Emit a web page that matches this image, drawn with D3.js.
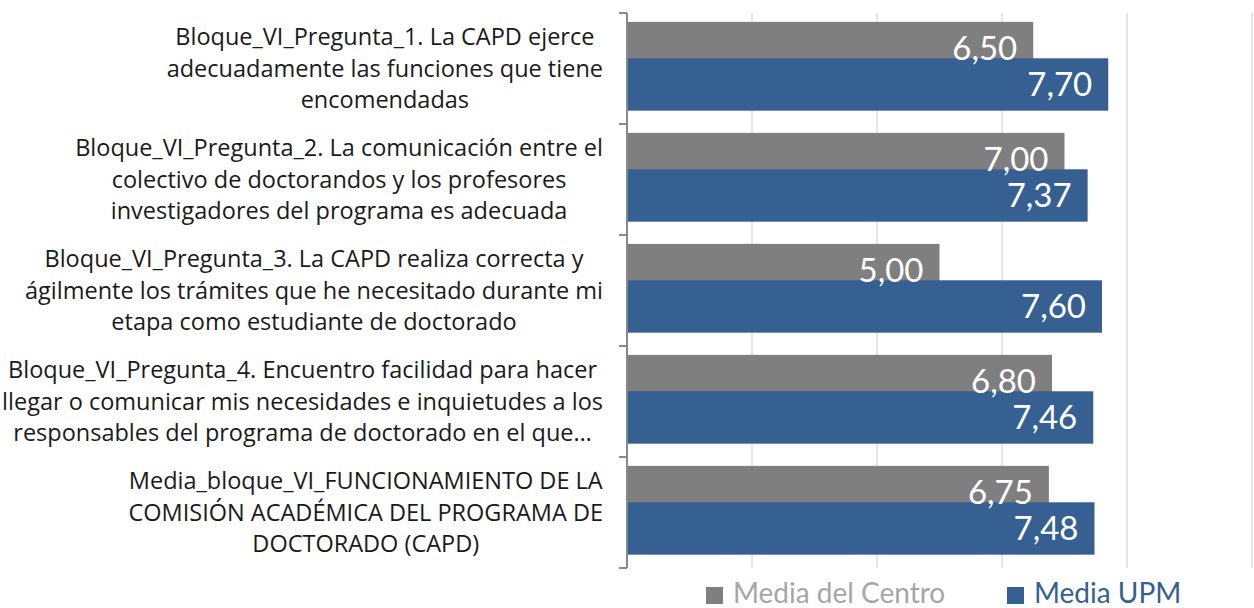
<!DOCTYPE html>
<html>
<head>
<meta charset="utf-8">
<script src="https://d3js.org/d3.v7.min.js"></script>
<style>
  body { margin: 0; background: #fff; }
  #chart { width: 1254px; height: 608px; }
  text { font-family: Lato, "Open Sans", sans-serif; }
</style>
</head>
<body>
<div id="chart"></div>
<script>
// categorías (cada una ya partida en líneas, como en el original)
const categories = [
    ["Bloque_VI_Pregunta_1. La CAPD ejerce", "adecuadamente las funciones que tiene", "encomendadas"],
    ["Bloque_VI_Pregunta_2. La comunicación entre el", "colectivo de doctorandos y los profesores", "investigadores del programa es adecuada"],
    ["Bloque_VI_Pregunta_3. La CAPD realiza correcta y", "ágilmente los trámites que he necesitado durante mi", "etapa como estudiante de doctorado"],
    ["Bloque_VI_Pregunta_4. Encuentro facilidad para hacer", "llegar o comunicar mis necesidades e inquietudes a los", "responsables del programa de doctorado en el que…"],
    ["Media_bloque_VI_FUNCIONAMIENTO DE LA", "COMISIÓN ACADÉMICA DEL PROGRAMA DE", "DOCTORADO (CAPD)"]
];
const seriesNames = ["Media del Centro", "Media UPM"];
const mediaCentro = [6.50, 7.00, 5.00, 6.80, 6.75];
const mediaUPM = [7.70, 7.37, 7.60, 7.46, 7.48];
const xTicks = [0, 2, 4, 6, 8, 10];

const colors = ["#7f7f7f", "#366092"];
const legendText = ["#a6a6a6", "#366092"];

const width = 1254, height = 608;
const plot = {left: 627, right: 1252, top: 13, bottom: 568};

const svg = d3.select("#chart").append("svg")
    .attr("width", width)
    .attr("height", height);

const x = d3.scaleLinear().domain([0, 10]).range([plot.left, plot.right]);
const y = d3.scaleBand()
    .domain(d3.range(categories.length))
    .range([plot.top, plot.bottom])
    .paddingInner(0.2)
    .paddingOuter(0.1)
    .align(0.4);

const bw = y.bandwidth();
const barH = bw * 0.59;
const offsets = [0, bw - barH];

const locale = d3.formatLocale({decimal: ",", thousands: ".", grouping: [3], currency: ["", "€"]});
const fmt = locale.format(".2f");

// líneas de cuadrícula
svg.append("g")
    .selectAll("line")
    .data(xTicks.slice(1))
    .join("line")
    .attr("x1", d => x(d)).attr("x2", d => x(d))
    .attr("y1", plot.top).attr("y2", plot.bottom)
    .attr("stroke", "#d9d9d9")
    .attr("stroke-width", 1.3);

// barras
const series = [mediaCentro, mediaUPM];
series.forEach((vals, s) => {
    svg.append("g").selectAll("rect")
        .data(vals)
        .join("rect")
        .attr("x", x(0))
        .attr("y", (d, i) => y(i) + offsets[s])
        .attr("width", d => x(d) - x(0))
        .attr("height", barH)
        .attr("fill", colors[s]);
});
// etiquetas de datos (encima de ambas series)
series.forEach((vals, s) => {
    svg.append("g").selectAll("text")
        .data(vals)
        .join("text")
        .attr("x", d => x(d) - 16)
        .attr("y", (d, i) => y(i) + offsets[s] + barH / 2)
        .attr("dy", "0.36em")
        .attr("text-anchor", "end")
        .attr("fill", "#fff")
        .style("font-size", "33px")
        .text(d => fmt(d));
});

// eje vertical con marcas entre categorías
const bounds = d3.range(categories.length + 1).map(i => plot.top + i * (plot.bottom - plot.top) / categories.length);
const axis = svg.append("g").attr("stroke", "#898989").attr("stroke-width", 2);
axis.append("line")
    .attr("x1", plot.left).attr("x2", plot.left)
    .attr("y1", plot.top).attr("y2", plot.bottom);
axis.selectAll(".tk")
    .data(bounds)
    .join("line")
    .attr("class", "tk")
    .attr("x1", plot.left - 8).attr("x2", plot.left)
    .attr("y1", d => d).attr("y2", d => d);

// etiquetas de categorías: bloque alineado a la derecha, líneas centradas
const labelRight = 603;
const lineH = 31.5;
categories.forEach((lines, i) => {
    const mid = (bounds[i] + bounds[i + 1]) / 2;
    const texts = svg.append("g").selectAll("text")
        .data(lines)
        .join("text")
        .attr("y", (d, k) => mid + (k - (lines.length - 1) / 2) * lineH)
        .attr("dy", "0.35em")
        .attr("text-anchor", "middle")
        .attr("fill", "#1a1a1a")
        .style("font-family", "'Open Sans', sans-serif")
        .style("font-size", "23.5px")
        .text(d => d);
    let maxW = 0;
    texts.each(function () { maxW = Math.max(maxW, this.getComputedTextLength()); });
    texts.attr("x", labelRight - maxW / 2);
});

// leyenda
const legendX = [706, 1007];
const legend = svg.append("g");
seriesNames.forEach((name, s) => {
    legend.append("rect")
        .attr("x", legendX[s]).attr("y", 587)
        .attr("width", 17).attr("height", 17)
        .attr("fill", colors[s]);
    legend.append("text")
        .attr("x", legendX[s] + 27).attr("y", 603)
        .attr("fill", legendText[s])
        .style("font-size", "28px")
        .text(name);
});
</script>
</body>
</html>
